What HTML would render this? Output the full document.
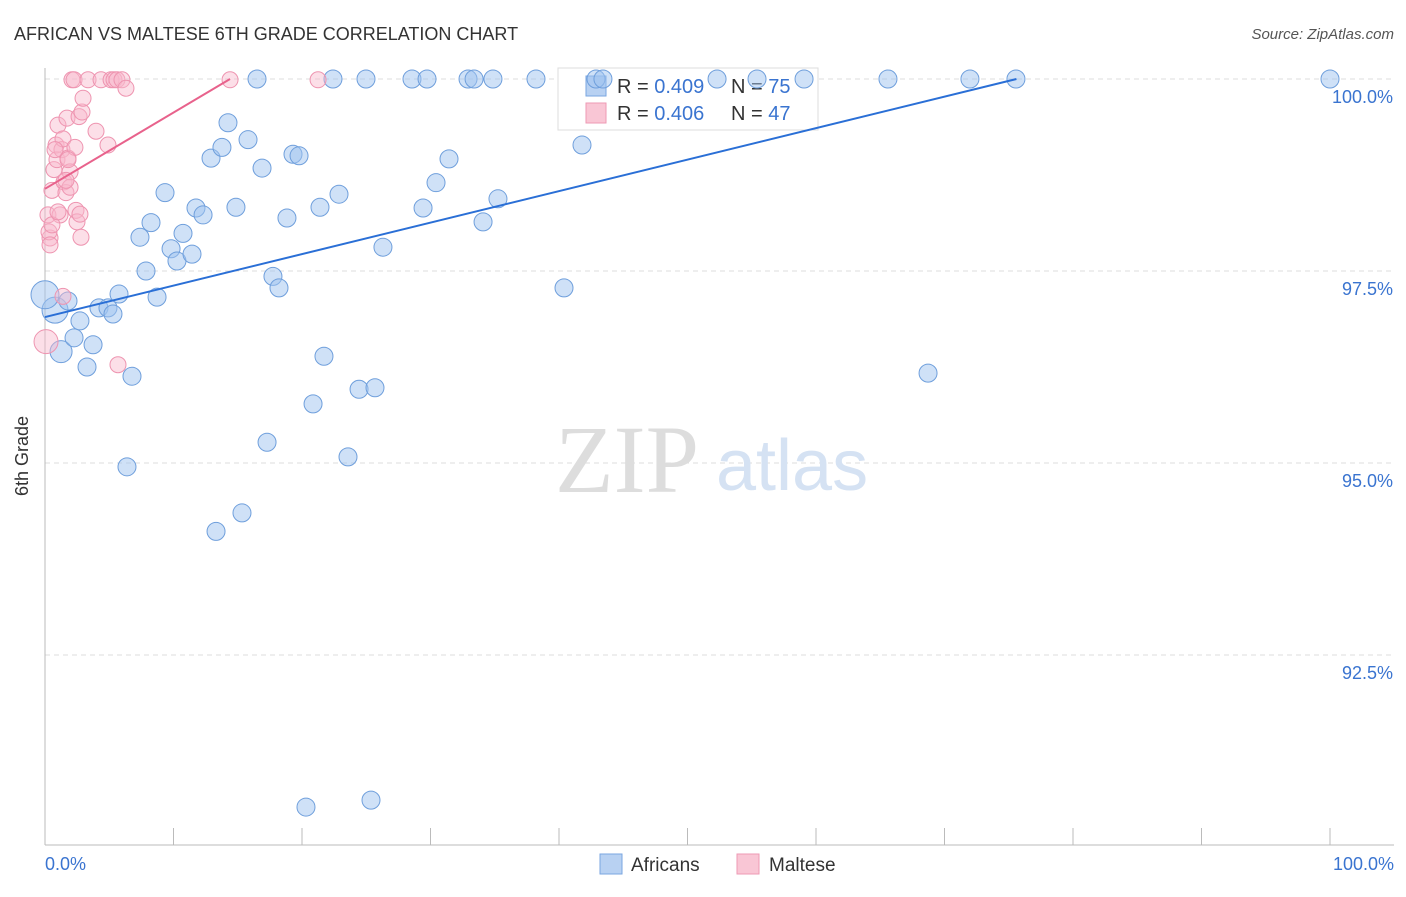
<!DOCTYPE html>
<html><head><meta charset="utf-8"><style>
body{margin:0;background:#fff;font-family:"Liberation Sans",sans-serif}
</style></head><body>
<svg width="1406" height="892" xmlns="http://www.w3.org/2000/svg">
<text x="14" y="40" font-size="18" fill="#333">AFRICAN VS MALTESE 6TH GRADE CORRELATION CHART</text>
<text x="1394" y="39" font-size="15" fill="#555" text-anchor="end" font-style="italic">Source: ZipAtlas.com</text>
<g id="grid"></g>
<line x1="45" y1="68" x2="45" y2="845" stroke="#bbb"/>
<line x1="45" y1="845" x2="1394" y2="845" stroke="#bbb"/>
<text x="555" y="492" font-size="96" fill="#ddd" font-family="Liberation Serif,serif">ZIP</text>
<text x="716" y="490" font-size="72" fill="#d5e2f3">atlas</text>
<text x="28" y="456" font-size="18" fill="#333" transform="rotate(-90 28 456)" text-anchor="middle">6th Grade</text>
<text x="45" y="870" font-size="18" fill="#3a74d0">0.0%</text>
<text x="1394" y="870" font-size="18" fill="#3a74d0" text-anchor="end">100.0%</text>
<rect x="558" y="68" width="260" height="62" fill="#fff" stroke="#ddd"/>
<rect x="586" y="76" width="20" height="20" fill="#b8d1f2" stroke="#7aa6e0"/>
<rect x="586" y="103" width="20" height="20" fill="#f9c6d5" stroke="#ee9ab4"/>
<text y="93" font-size="20" fill="#333"><tspan x="617">R = </tspan><tspan fill="#3a74d0">0.409</tspan><tspan x="731">N = </tspan><tspan fill="#3a74d0">75</tspan></text>
<text y="120" font-size="20" fill="#333"><tspan x="617">R = </tspan><tspan fill="#3a74d0">0.406</tspan><tspan x="731">N = </tspan><tspan fill="#3a74d0">47</tspan></text>
<g id="pts"></g>
<g id="lines"></g>
<rect x="600" y="854" width="22" height="20" fill="#b8d1f2" stroke="#7aa6e0"/>
<text x="631" y="871" font-size="19" fill="#333">Africans</text>
<rect x="737" y="854" width="22" height="20" fill="#f9c6d5" stroke="#ee9ab4"/>
<text x="769" y="871" font-size="19" fill="#333">Maltese</text>
</svg>
<script>
const yTicks=[100,97.5,95,92.5];
const yTickLabels=["100.0%","97.5%","95.0%","92.5%"];
const xTicks=[0,10,20,30,40,50,60,70,80,90,100];
const africanX=[0.78,0,1.25,1.79,2.72,2.26,3.27,3.74,4.2,4.9,5.29,5.76,6.38,6.77,7.39,7.86,8.25,8.72,9.34,9.81,10.27,10.74,11.44,11.75,12.3,12.92,13.31,13.77,14.24,14.86,15.33,15.8,16.5,16.89,17.28,17.74,18.21,18.83,19.3,19.77,20.31,20.86,21.4,21.71,22.41,22.88,23.58,24.44,24.98,25.37,25.68,26.3,28.56,29.42,29.73,30.43,31.44,32.92,33.39,34.09,34.86,35.25,38.21,40.39,41.79,42.88,43.42,52.3,55.41,59.07,65.6,68.72,71.98,75.56,100];
const africanY=[96.99,97.19,96.45,97.11,96.85,96.63,96.25,96.54,97.02,97.02,96.94,97.2,94.95,96.13,97.94,97.5,98.13,97.16,98.52,97.79,97.63,97.99,97.72,98.32,98.23,98.97,94.11,99.11,99.43,98.33,94.35,99.21,100,98.84,95.27,97.43,97.28,98.19,99.02,99,90.52,95.77,98.33,96.39,100,98.5,95.08,95.96,100,90.61,95.98,97.81,100,98.32,100,98.65,98.96,100,100,98.14,100,98.44,100,97.28,99.14,100,100,100,100,100,100,96.17,100,100,100];
const africanR=[13,14,11,9,9,9,9,9,9,9,9,9,9,9,9,9,9,9,9,9,9,9,9,9,9,9,9,9,9,9,9,9,9,9,9,9,9,9,9,9,9,9,9,9,9,9,9,9,9,9,9,9,9,9,9,9,9,9,9,9,9,9,9,9,9,9,9,9,9,9,9,9,9,9,9];
const malteseX=[0.08,0.23,0.39,0.31,0.54,0.7,0.93,0.86,1.01,1.32,1.4,1.48,1.63,1.71,1.79,1.95,1.95,2.1,2.26,2.33,2.41,2.49,2.65,2.72,2.8,2.88,2.96,3.35,3.97,4.36,4.9,5.14,5.37,5.68,5.6,5.99,6.3,14.4,21.25,1.4,1.17,0.54,0.78,1.01,1.63,1.79,0.39];
const malteseY=[96.58,98.23,97.93,98.01,98.55,98.82,98.95,99.14,99.4,99.08,99.22,98.66,98.52,99.49,98.97,98.79,98.59,99.99,99.99,99.11,98.29,98.14,99.51,98.24,97.94,99.57,99.75,99.99,99.32,99.99,99.14,99.99,99.99,96.28,99.99,99.99,99.88,99.99,99.99,97.17,98.23,98.1,99.08,98.27,98.68,98.95,97.84];
const trendA=[0,96.9,75.6,100];
const trendM=[0,98.57,14.4,100];
const L=45,R=1330,T=79,B=847;
const xs=v=>L+(R-L)*v/100;
const ys=v=>T+(100-v)*(B-T)/10;
const NS="http://www.w3.org/2000/svg";
function mk(t,a,p){const e=document.createElementNS(NS,t);for(const k in a)e.setAttribute(k,a[k]);p.appendChild(e);return e;}
const grid=document.getElementById('grid');
yTicks.forEach((v,i)=>{
 const l=mk('line',{x1:45,x2:1394,y1:ys(v),y2:ys(v),stroke:'#ddd','stroke-dasharray':'5,4'},grid);
 
 
 const t=mk('text',{x:1393,y:ys(v)+24,'font-size':18,fill:'#3a74d0','text-anchor':'end'},grid);
 t.textContent=yTickLabels[i];
 
 
});
xTicks.forEach(v=>{
 const l=mk('line',{x1:xs(v),x2:xs(v),y1:828,y2:845,stroke:'#bbb'},grid);
 
 
});
const pts=document.getElementById('pts');
africanX.forEach((v,i)=>{
 const c=mk('circle',{cx:xs(v),cy:ys(africanY[i]),r:africanR[i],fill:'rgba(160,195,240,0.5)',stroke:'#6f9fdc','stroke-width':1},pts);
 
 
});
malteseX.forEach((v,i)=>{
 const c=mk('circle',{cx:xs(v),cy:ys(malteseY[i]),r:i==0?12:8,fill:'rgba(248,185,205,0.45)',stroke:'#ee94b0','stroke-width':1},pts);
 
 
});
const lines=document.getElementById('lines');
const la=mk('line',{x1:xs(trendA[0]),y1:ys(trendA[1]),x2:xs(trendA[2]),y2:ys(trendA[3]),stroke:'#2a6fd6','stroke-width':2},lines);


const lm=mk('line',{x1:xs(trendM[0]),y1:ys(trendM[1]),x2:xs(trendM[2]),y2:ys(trendM[3]),stroke:'#e8628c','stroke-width':2},lines);


</script>
</body></html>
